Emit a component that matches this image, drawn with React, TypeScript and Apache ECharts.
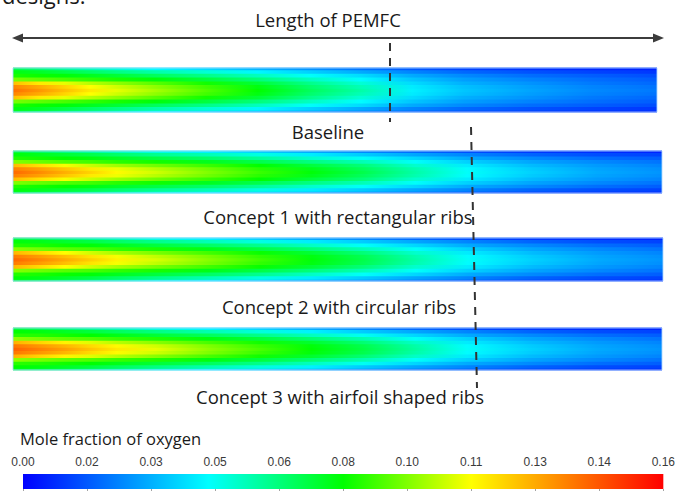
import React, { useEffect, useRef } from "react";
import * as echarts from "echarts";

// Axial sample positions (fraction of channel length, inlet = 0)
const X_POS = [0, 0.04, 0.08, 0.12, 0.16, 0.22, 0.3, 0.38, 0.46, 0.54, 0.62, 0.7, 0.8, 0.9, 1.0];
// Transverse sample positions (fraction of channel height, wall = 0, centreline = 0.5); mirrored about the centreline
const ROW_POS = [0, 0.08, 0.16, 0.25, 0.34, 0.42, 0.5];

// Mole fraction of oxygen, rows from wall (first) to centreline (last)
const BASELINE = [
  [0.07, 0.065, 0.06, 0.056, 0.052, 0.046, 0.04, 0.033, 0.027, 0.021, 0.016, 0.012, 0.009, 0.007, 0.006],
  [0.078, 0.075, 0.071, 0.067, 0.063, 0.058, 0.052, 0.045, 0.038, 0.031, 0.024, 0.019, 0.015, 0.012, 0.01],
  [0.083, 0.081, 0.079, 0.076, 0.073, 0.068, 0.062, 0.055, 0.047, 0.04, 0.031, 0.025, 0.02, 0.017, 0.014],
  [0.095, 0.092, 0.089, 0.086, 0.083, 0.079, 0.072, 0.064, 0.055, 0.046, 0.036, 0.029, 0.024, 0.02, 0.017],
  [0.124, 0.116, 0.109, 0.103, 0.098, 0.091, 0.082, 0.073, 0.062, 0.052, 0.04, 0.032, 0.027, 0.022, 0.019],
  [0.135, 0.128, 0.12, 0.112, 0.106, 0.098, 0.088, 0.078, 0.066, 0.056, 0.043, 0.035, 0.029, 0.024, 0.021],
  [0.139, 0.132, 0.124, 0.116, 0.109, 0.101, 0.09, 0.08, 0.068, 0.058, 0.044, 0.036, 0.03, 0.025, 0.022],
];
const CONCEPT_1 = [
  [0.072, 0.067, 0.063, 0.059, 0.055, 0.05, 0.044, 0.038, 0.031, 0.025, 0.019, 0.014, 0.01, 0.008, 0.006],
  [0.079, 0.076, 0.073, 0.07, 0.066, 0.061, 0.056, 0.05, 0.043, 0.037, 0.03, 0.024, 0.018, 0.014, 0.012],
  [0.084, 0.082, 0.08, 0.078, 0.075, 0.071, 0.066, 0.06, 0.053, 0.047, 0.039, 0.031, 0.025, 0.02, 0.017],
  [0.096, 0.093, 0.09, 0.088, 0.085, 0.082, 0.076, 0.07, 0.063, 0.056, 0.047, 0.038, 0.03, 0.025, 0.021],
  [0.125, 0.118, 0.111, 0.105, 0.1, 0.094, 0.087, 0.08, 0.072, 0.064, 0.053, 0.043, 0.034, 0.028, 0.024],
  [0.136, 0.13, 0.123, 0.116, 0.11, 0.103, 0.094, 0.085, 0.077, 0.068, 0.057, 0.046, 0.037, 0.03, 0.026],
  [0.14, 0.134, 0.127, 0.12, 0.113, 0.106, 0.096, 0.087, 0.079, 0.07, 0.058, 0.047, 0.038, 0.031, 0.027],
];
const CONCEPT_2 = [
  [0.072, 0.068, 0.064, 0.06, 0.056, 0.05, 0.044, 0.038, 0.031, 0.025, 0.019, 0.014, 0.01, 0.008, 0.006],
  [0.079, 0.077, 0.074, 0.071, 0.067, 0.062, 0.056, 0.05, 0.043, 0.037, 0.03, 0.024, 0.018, 0.014, 0.012],
  [0.084, 0.083, 0.081, 0.079, 0.076, 0.072, 0.067, 0.061, 0.054, 0.047, 0.039, 0.031, 0.025, 0.02, 0.017],
  [0.097, 0.094, 0.091, 0.089, 0.086, 0.083, 0.077, 0.071, 0.064, 0.056, 0.047, 0.038, 0.03, 0.025, 0.021],
  [0.126, 0.119, 0.112, 0.106, 0.101, 0.095, 0.088, 0.081, 0.073, 0.064, 0.053, 0.043, 0.034, 0.028, 0.024],
  [0.137, 0.131, 0.124, 0.117, 0.111, 0.104, 0.095, 0.086, 0.078, 0.069, 0.057, 0.046, 0.037, 0.03, 0.026],
  [0.141, 0.135, 0.128, 0.121, 0.114, 0.107, 0.097, 0.088, 0.079, 0.07, 0.058, 0.047, 0.038, 0.031, 0.027],
];
const CONCEPT_3 = [
  [0.073, 0.069, 0.065, 0.061, 0.057, 0.051, 0.045, 0.039, 0.032, 0.025, 0.019, 0.014, 0.01, 0.008, 0.006],
  [0.08, 0.078, 0.075, 0.072, 0.068, 0.063, 0.057, 0.051, 0.044, 0.037, 0.03, 0.024, 0.018, 0.014, 0.012],
  [0.085, 0.084, 0.082, 0.08, 0.077, 0.073, 0.068, 0.062, 0.055, 0.048, 0.039, 0.031, 0.025, 0.02, 0.017],
  [0.098, 0.095, 0.092, 0.09, 0.087, 0.084, 0.078, 0.072, 0.065, 0.057, 0.047, 0.038, 0.03, 0.025, 0.021],
  [0.127, 0.12, 0.114, 0.108, 0.103, 0.097, 0.089, 0.082, 0.074, 0.065, 0.054, 0.043, 0.034, 0.028, 0.024],
  [0.138, 0.132, 0.126, 0.119, 0.113, 0.106, 0.096, 0.087, 0.079, 0.07, 0.058, 0.046, 0.037, 0.03, 0.026],
  [0.142, 0.136, 0.13, 0.123, 0.116, 0.109, 0.098, 0.089, 0.08, 0.071, 0.059, 0.047, 0.038, 0.031, 0.027],
];

const FIELDS = [BASELINE, CONCEPT_1, CONCEPT_2, CONCEPT_3];
const STRIP_LABELS = [
  "Baseline",
  "Concept 1 with rectangular ribs",
  "Concept 2 with circular ribs",
  "Concept 3 with airfoil shaped ribs",
];
const TITLE = "Length of PEMFC";
const LEGEND_TITLE = "Mole fraction of oxygen";
const SCALE_MIN = 0;
const SCALE_MAX = 0.16;
const SCALE_STEP = 0.016;

// colour map (position along the scale, rgb)
const CMAP: [number, number[]][] = [
  [0, [0, 0, 255]],
  [0.29, [0, 255, 255]],
  [0.5, [0, 255, 0]],
  [0.7, [255, 255, 0]],
  [1, [255, 0, 0]],
];

function colorAt(t: number): string {
  const u = Math.max(0, Math.min(1, t));
  for (let i = 1; i < CMAP.length; i++) {
    const [p1, c1] = CMAP[i];
    const [p0, c0] = CMAP[i - 1];
    if (u <= p1) {
      const f = (u - p0) / (p1 - p0);
      const c = c0.map((v, k) => Math.round(v + (c1[k] - v) * f));
      return `rgb(${c[0]},${c[1]},${c[2]})`;
    }
  }
  return "rgb(255,0,0)";
}
const valueColor = (v: number) => colorAt((v - SCALE_MIN) / (SCALE_MAX - SCALE_MIN));

// strip layout in px
const STRIP_BOXES = [
  { left: 13, top: 68, width: 644, height: 44 },
  { left: 13, top: 151, width: 649, height: 42 },
  { left: 13, top: 238, width: 650, height: 43 },
  { left: 13, top: 328, width: 649, height: 42 },
];
const LABEL_POS = [
  [328, 131],
  [338, 216],
  [339, 306],
  [340, 396],
];

const FONT = "Open Sans";

export default function App() {
  const ref = useRef<HTMLDivElement>(null);
  useEffect(() => {
    if (!ref.current) return;
    document.body.style.margin = "0";
    const chart = echarts.init(ref.current, null, { renderer: "svg" });

    const fullRows = ROW_POS.concat(ROW_POS.slice(0, -1).reverse().map((p) => 1 - p));
    const grids: any[] = [];
    const xAxes: any[] = [];
    const yAxes: any[] = [];
    const series: any[] = [];

    FIELDS.forEach((field, s) => {
      const b = STRIP_BOXES[s];
      grids.push({ ...b, containLabel: false });
      xAxes.push({ type: "value", gridIndex: s, min: 0, max: 1, show: false });
      yAxes.push({ type: "value", gridIndex: s, min: 0, max: 1, show: false });
      const rowData = fullRows.map((p, j) => {
        const lo = j === 0 ? 0 : (fullRows[j - 1] + p) / 2;
        const hi = j === fullRows.length - 1 ? 1 : (fullRows[j + 1] + p) / 2;
        const prof = j < ROW_POS.length ? j : fullRows.length - 1 - j;
        return [lo, hi, prof];
      });
      series.push({
        type: "custom",
        xAxisIndex: s,
        yAxisIndex: s,
        silent: true,
        data: rowData,
        renderItem: (params: any, api: any) => {
          const lo = api.value(0);
          const hi = api.value(1);
          const prof = field[api.value(2)];
          const p0 = api.coord([0, lo]);
          const p1 = api.coord([1, hi]);
          return {
            type: "rect",
            shape: { x: p0[0], y: p1[1] - 0.4, width: p1[0] - p0[0], height: p0[1] - p1[1] + 0.8 },
            style: {
              fill: {
                type: "linear",
                x: 0,
                y: 0,
                x2: 1,
                y2: 0,
                colorStops: X_POS.map((x, k) => ({ offset: x, color: valueColor(prof[k]) })),
              },
              stroke: null,
            },
          };
        },
      });
      series.push({
        type: "custom",
        xAxisIndex: s,
        yAxisIndex: s,
        silent: true,
        z: 5,
        data: [[0, 0, 1, 1]],
        renderItem: (params: any, api: any) => {
          const p0 = api.coord([api.value(0), api.value(1)]);
          const p1 = api.coord([api.value(2), api.value(3)]);
          return {
            type: "rect",
            shape: { x: p0[0], y: p1[1], width: p1[0] - p0[0], height: p0[1] - p1[1] },
            style: { fill: null, stroke: "rgba(170,215,255,0.85)", lineWidth: 1 },
          };
        },
      });
    });

    // colour bar
    const cb = FIELDS.length;
    grids.push({ left: 23, top: 474, width: 642, height: 15 });
    xAxes.push({
      type: "value",
      gridIndex: cb,
      min: SCALE_MIN,
      max: SCALE_MAX,
      interval: SCALE_STEP,
      position: "top",
      z: 10,
      axisLine: { show: false },
      splitLine: { show: false },
      axisTick: { show: true, inside: true, length: 3, lineStyle: { color: "rgba(140,140,140,0.8)", width: 1 } },
      axisLabel: {
        margin: 6,
        fontSize: 12,
        color: "#3a3a3a",
        fontFamily: "Liberation Sans",
        formatter: (v: number) => v.toFixed(2),
      },
    });
    yAxes.push({ type: "value", gridIndex: cb, min: 0, max: 1, show: false });
    series.push({
      type: "custom",
      xAxisIndex: cb,
      yAxisIndex: cb,
      silent: true,
      data: [[SCALE_MIN, SCALE_MAX]],
      renderItem: (params: any, api: any) => {
        const p0 = api.coord([api.value(0), 0]);
        const p1 = api.coord([api.value(1), 1]);
        return {
          type: "rect",
          shape: { x: p0[0], y: p1[1], width: p1[0] - p0[0], height: p0[1] - p1[1] },
          style: {
            fill: {
              type: "linear",
              x: 0,
              y: 0,
              x2: 1,
              y2: 0,
              colorStops: CMAP.map(([o, c]) => ({ offset: o, color: `rgb(${c[0]},${c[1]},${c[2]})` })),
            },
          },
        };
      },
    });

    const textStyle = { fontFamily: FONT, fontSize: 18.5, fill: "#1a1a1a" };
    const graphic: any[] = [
      {
        type: "text",
        left: 2,
        top: -16,
        style: { text: "designs.", fontFamily: FONT, fontSize: 22, fill: "#1a1a1a" },
      },
      {
        type: "text",
        x: 328,
        y: 19,
        style: { ...textStyle, text: TITLE, align: "center", verticalAlign: "middle" },
      },
      { type: "line", shape: { x1: 20, y1: 38, x2: 656, y2: 38 }, style: { stroke: "#3c3c3c", lineWidth: 2 } },
      {
        type: "polygon",
        shape: { points: [[12, 38], [23, 33.5], [23, 42.5]] },
        style: { fill: "#3c3c3c" },
      },
      {
        type: "polygon",
        shape: { points: [[664, 38], [653, 33.5], [653, 42.5]] },
        style: { fill: "#3c3c3c" },
      },
      {
        type: "line",
        z: 20,
        shape: { x1: 390, y1: 43, x2: 390, y2: 122 },
        style: { stroke: "#333", lineWidth: 2, lineDash: [8, 7] },
      },
      {
        type: "line",
        z: 20,
        shape: { x1: 471, y1: 127, x2: 477, y2: 388 },
        style: { stroke: "#333", lineWidth: 2, lineDash: [8, 7] },
      },
      {
        type: "text",
        x: 20,
        y: 438,
        style: { ...textStyle, fontSize: 16.5, text: LEGEND_TITLE, verticalAlign: "middle" },
      },
    ];
    STRIP_LABELS.forEach((t, i) => {
      graphic.push({
        type: "text",
        x: LABEL_POS[i][0],
        y: LABEL_POS[i][1],
        style: { ...textStyle, text: t, align: "center", verticalAlign: "middle" },
      });
    });

    chart.setOption({
      animation: false,
      grid: grids,
      xAxis: xAxes,
      yAxis: yAxes,
      series,
      graphic,
    });
    return () => chart.dispose();
  }, []);

  return (
    <div
      ref={ref}
      style={{ position: "absolute", left: 0, top: 0, width: 678, height: 491, background: "#fff" }}
    />
  );
}
